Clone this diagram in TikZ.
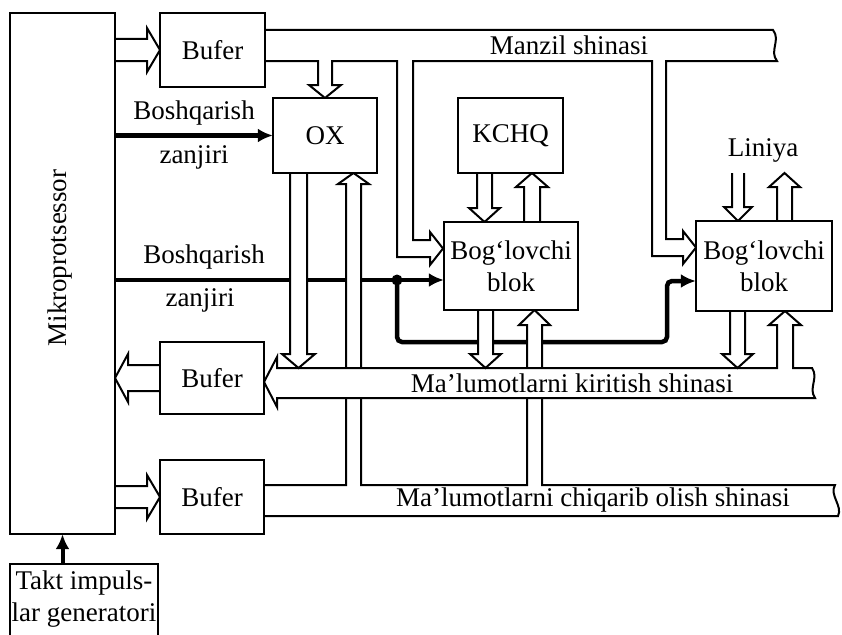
\documentclass[tikz,border=0pt]{standalone}
\usepackage{fontspec}
\setmainfont{Liberation Serif}
\usetikzlibrary{arrows.meta}

\tikzset{
  block/.style={draw, line width=2pt, fill=white, inner sep=0pt},
  bus/.style={draw, line width=2pt, fill=white, line join=miter},
  ctrl/.style={line width=4.5pt, -{Latex[length=15pt,width=14pt]}},
  lbl/.style={inner sep=0pt}
}

% hollow bus arrows: shaft edges, start, tip
\newcommand{\busdown}[4]{\path[bus] (#1,#3) -- (#1,{#4-14}) -- ({#1-8},{#4-14}) -- ({(#1+#2)/2},#4) -- ({#2+8},{#4-14}) -- (#2,{#4-14}) -- (#2,#3);}
\newcommand{\busup}[4]{\path[bus] (#1,#3) -- (#1,{#4+14}) -- ({#1-8},{#4+14}) -- ({(#1+#2)/2},#4) -- ({#2+8},{#4+14}) -- (#2,{#4+14}) -- (#2,#3);}
\newcommand{\busright}[4]{\path[bus] (#3,#1) -- ({#4-13},#1) -- ({#4-13},{#1-11}) -- (#4,{(#1+#2)/2}) -- ({#4-13},{#2+11}) -- ({#4-13},#2) -- (#3,#2);}
\newcommand{\busleft}[4]{\path[bus] (#3,#1) -- ({#4+13},#1) -- ({#4+13},{#1-11}) -- (#4,{(#1+#2)/2}) -- ({#4+13},{#2+11}) -- ({#4+13},#2) -- (#3,#2);}

\begin{document}
\begin{tikzpicture}[x=1pt, y=-1pt, font=\fontsize{27}{32}\selectfont]
  \useasboundingbox (0,0) rectangle (842,634);

  % Blocks (placed first so the wires can refer to them)
  \path (62.5,273.5) node[minimum width=105pt, minimum height=521pt] (mp) {};
  \path (84,564) node[anchor=north, minimum width=148pt, minimum height=80pt] (takt) {};
  \path (212.5,50) node[minimum width=105pt, minimum height=74pt] (buf1) {};
  \path (212,378) node[minimum width=104pt, minimum height=72pt] (buf2) {};
  \path (212,497) node[minimum width=104pt, minimum height=74pt] (buf3) {};
  \path (325,135.5) node[minimum width=104pt, minimum height=75pt] (ox) {};
  \path (510.5,135.5) node[minimum width=105pt, minimum height=75pt] (kchq) {};
  \path (511,266) node[minimum width=134pt, minimum height=88pt] (bog1) {};
  \path (764,266) node[minimum width=136pt, minimum height=90pt] (bog2) {};

  % Control lines
  \draw[ctrl] (mp.east |- ox.west) -- (ox.west);
  \coordinate (c2) at ([yshift=-14pt]bog1.west);
  \coordinate (split) at (397,280);
  \draw[ctrl] (mp.east |- c2) -- (c2);
  \draw[ctrl, rounded corners=5pt] (split) |- (667,342) |- ([yshift=-15pt]bog2.west);
  \fill (split) circle (5.5pt);
  \draw[ctrl, line width=4pt] (mp.south |- takt.north) -- (mp.south);

  % Data output bus
  \path[bus] (264,485) -- (346,485) -- (346,184) -- (338,184) -- (353.5,173) -- (369,184) -- (361,184)
    -- (361,485) -- (527,485) -- (527,325) -- (519,325) -- (534.5,310) -- (550,325) -- (542,325)
    -- (542,485) -- (835,485) .. controls (829,495) and (843,506) .. (838,516) -- (264,516);
  % Data input bus
  \path[bus] (264,382) -- (277,357) -- (277,368) -- (777,368) -- (777,325) -- (769,325) -- (785,311)
    -- (801,325) -- (793,325) -- (793,368) -- (812,368) .. controls (819,378) and (808,388) .. (815,398)
    -- (277,398) -- (277,407) -- cycle;
  % Address bus
  \path[bus] (265,30) -- (773,30) .. controls (781,40) and (769,51) .. (777,61) -- (666,61)
    -- (666,239) -- (683,239) -- (683,231) -- (696,247.5) -- (683,264) -- (683,256) -- (652,256)
    -- (652,61) -- (413,61) -- (413,240) -- (430,240) -- (430,232) -- (443,248.5) -- (430,265)
    -- (430,257) -- (397,257) -- (397,61) -- (332,61) -- (332,85) -- (341,85) -- (325,98)
    -- (309,85) -- (318,85) -- (318,61) -- (265,61);

  % Hollow arrows
  \busright{39}{61}{115}{160}
  \busright{486}{508}{115}{160}
  \busleft{365}{391}{160}{115}
  \busdown{290}{307}{173}{368}
  \busdown{477}{492}{173}{222}
  \busup{524}{540}{222}{173}
  \busdown{478}{493}{310}{368}
  \busdown{730}{745}{311}{368}
  \busdown{732}{744}{173}{221}
  \busup{777}{792}{221}{173}

  % Block outlines and texts
  \node[block, minimum width=105pt, minimum height=521pt] (mpbox) at (mp) {};
  \node[rotate=90] (mptext) at (60,258) {Mikroprotsessor};
  \node[block, minimum width=148pt, minimum height=80pt] (taktbox) at (takt) {};
  \node[align=center, inner sep=0pt] (takttext) at (84,599) {Takt impuls-\\lar generatori};
  \node[block, minimum width=105pt, minimum height=74pt] (buf1box) at (buf1) {Bufer};
  \node[block, minimum width=104pt, minimum height=72pt] (buf2box) at (buf2) {Bufer};
  \node[block, minimum width=104pt, minimum height=74pt] (buf3box) at (buf3) {Bufer};
  \node[block, minimum width=104pt, minimum height=75pt] (oxbox) at (ox) {OX};
  \node[block, minimum width=105pt, minimum height=75pt] (kchqbox) at (kchq) {KCHQ};
  \node[block, minimum width=134pt, minimum height=88pt, align=center] (bog1box) at (bog1) {Bog‘lovchi\\blok};
  \node[block, minimum width=136pt, minimum height=90pt, align=center] (bog2box) at (bog2) {Bog‘lovchi\\blok};

  % Labels
  \node[lbl] (addr) at (569,45) {Manzil shinasi};
  \node[lbl] (din) at (572,383) {Ma’lumotlarni kiritish shinasi};
  \node[lbl] (dout) at (593,500) {Ma’lumotlarni chiqarib olish shinasi};
  \node[lbl] (ctrl1a) at (194,113) {Boshqarish};
  \node[lbl] (ctrl1b) at (194,157) {zanjiri};
  \node[lbl] (ctrl2a) at (204,257) {Boshqarish};
  \node[lbl] (ctrl2b) at (200,300) {zanjiri};
  \node[lbl] (line) at (763,150) {Liniya};
\end{tikzpicture}
\end{document}
